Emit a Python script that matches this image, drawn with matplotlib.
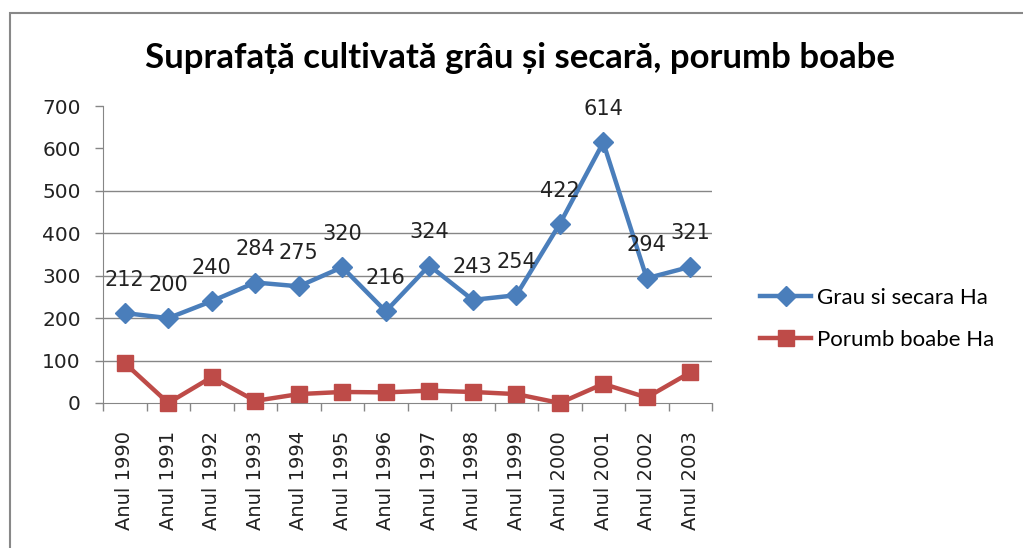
import numpy as np
import matplotlib
matplotlib.use('Agg')
import matplotlib.pyplot as plt
from matplotlib.patches import Rectangle

years = ['Anul 1990', 'Anul 1991', 'Anul 1992', 'Anul 1993', 'Anul 1994', 'Anul 1995', 'Anul 1996',
         'Anul 1997', 'Anul 1998', 'Anul 1999', 'Anul 2000', 'Anul 2001', 'Anul 2002', 'Anul 2003']
grau = [212, 200, 240, 284, 275, 320, 216, 324, 243, 254, 422, 614, 294, 321]
porumb = [94, 0, 61, 5, 21, 26, 25, 29, 26, 21, 0, 45, 13, 72]
yticks = [0, 100, 200, 300, 400, 500, 600, 700]

blue = '#4A7EBB'
red = '#BE4B48'
grid_c = '#868686'

fig = plt.figure(figsize=(10.23, 5.48), dpi=100)
ax = fig.add_axes([103/1023, 1 - 403/548, 609/1023, 297/548])

x = np.arange(len(years))
ax.plot(x, grau, color=blue, lw=3.2, marker='D', ms=10.5, mec=blue, mfc=blue,
        label='Grau si secara Ha', zorder=3)
ax.plot(x, porumb, color=red, lw=3.2, marker='s', ms=12, mec=red, mfc=red,
        label='Porumb boabe Ha', zorder=3, clip_on=False)

# data labels above the wheat/rye points
for xi, v in zip(x, grau):
    ax.annotate(str(v), (xi, v), xytext=(0, 24), textcoords='offset points',
                ha='center', va='center', fontsize=15, color='#222222')

ax.set_xlim(-0.5, len(years) - 0.5)
ax.set_ylim(0, 700)
ax.set_yticks(yticks)
ax.set_yticklabels([str(t) for t in yticks], fontsize=14.5, color='#222222')
for t in yticks[1:6]:
    ax.axhline(t, color=grid_c, lw=1, zorder=1)

ax.set_xticks(x)
ax.set_xticklabels(years, rotation=90, fontsize=14, color='#222222')
ax.tick_params(axis='x', length=0, pad=20)
ax.set_xticks(np.arange(-0.5, len(years)), minor=True)
ax.tick_params(axis='x', which='minor', length=6, color=grid_c, width=1)
ax.tick_params(axis='y', length=6, color=grid_c, width=1, pad=10)

for s in ['top', 'right']:
    ax.spines[s].set_visible(False)
ax.spines['left'].set_color(grid_c)
ax.spines['bottom'].set_color(grid_c)

fig.text(0.508, 1 - 58/548, 'Suprafață cultivată grâu și secară, porumb boabe',
         ha='center', va='center', fontsize=25, fontweight='bold', family='Lato')

leg = fig.legend(loc='center left', bbox_to_anchor=(740/1023, 1 - 319/548), frameon=False,
                 prop={'family': 'Lato', 'size': 16}, handlelength=2.3, labelspacing=1.0,
                 handletextpad=0.25)

fig.patches.append(Rectangle((10/1023, -0.1), 1.2, 1 - 13/548 + 0.1, transform=fig.transFigure,
                             fill=False, edgecolor='#888888', lw=1.5))

fig.savefig('out.png', dpi=100)
